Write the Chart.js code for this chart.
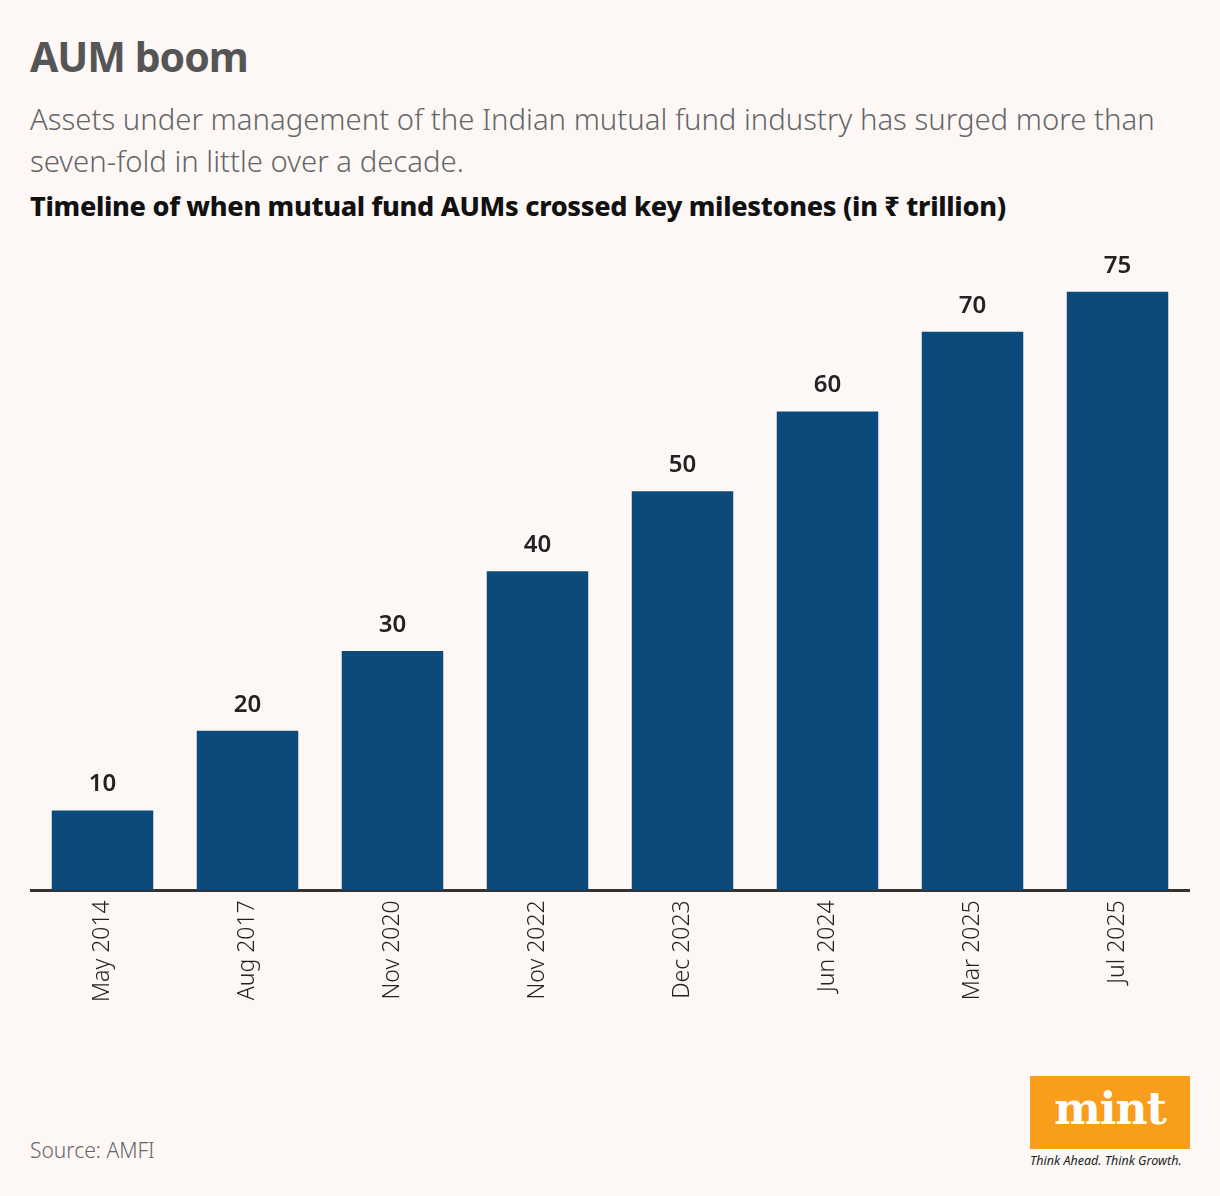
<!DOCTYPE html>
<html>
<head>
<meta charset="utf-8">
<script src="https://cdn.jsdelivr.net/npm/chart.js@4"></script>
<style>
  body { margin: 0; background: #fdf8f6; font-family: "Noto Sans", sans-serif; }
  .wrap { position: relative; width: 1220px; height: 1196px; }
  h1 { position: absolute; left: 30px; top: 28px; margin: 0; font-size: 41px; font-weight: 700; color: #555; letter-spacing: -1px; }
  .sub { position: absolute; left: 30px; top: 98px; width: 1180px; margin: 0; font-size: 29.3px; line-height: 42px; font-weight: 300; color: #666; }
  .ctitle { position: absolute; left: 30px; top: 187px; margin: 0; font-size: 27px; font-weight: 800; color: #111; letter-spacing: -0.3px; }
  .chart { position: absolute; left: 30px; top: 230px; width: 1160px; height: 774px; }
  .source { position: absolute; left: 30px; top: 1136px; font-size: 21px; color: #666; font-weight: 300; }
  .logo { position: absolute; left: 1030px; top: 1076px; width: 160px; height: 73px; background: #f99d1c; color: #fff; font-family: "DejaVu Serif", serif; font-weight: 700; font-size: 44px; text-align: center; line-height: 66px; letter-spacing: -1px; }
  .tag { position: absolute; left: 1030px; top: 1152px; width: 162px; font-size: 12.5px; font-style: italic; color: #222; white-space: nowrap; }
</style>
</head>
<body>
<div class="wrap">
  <h1>AUM boom</h1>
  <p class="sub">Assets under management of the Indian mutual fund industry has surged more than seven-fold in little over a decade.</p>
  <p class="ctitle">Timeline of when mutual fund AUMs crossed key milestones (in ₹ trillion)</p>
  <div class="chart"><canvas id="myChart"></canvas></div>
  <div class="source">Source: AMFI</div>
  <div class="logo">mint</div>
  <div class="tag">Think Ahead. Think Growth.</div>
</div>
<script>
const labels = ['May 2014', 'Aug 2017', 'Nov 2020', 'Nov 2022', 'Dec 2023', 'Jun 2024', 'Mar 2025', 'Jul 2025'];
const aum = [10, 20, 30, 40, 50, 60, 70, 75];

const valueLabels = {
    id: 'valueLabels',
    afterDatasetsDraw(chart) {
        const ctx = chart.ctx;
        ctx.save();
        ctx.font = '600 24px "Noto Sans"';
        ctx.fillStyle = '#222';
        ctx.textAlign = 'center';
        ctx.textBaseline = 'bottom';
        chart.getDatasetMeta(0).data.forEach(function(bar, i) {
            ctx.fillText(aum[i], bar.x, bar.y - 14);
        });
        ctx.restore();
    }
};

new Chart(document.getElementById('myChart'), {
    type: 'bar',
    data: {
        labels: labels,
        datasets: [{
            data: aum,
            backgroundColor: '#0b4a7a',
            barPercentage: 0.7,
            categoryPercentage: 1
        }]
    },
    options: {
        responsive: true,
        maintainAspectRatio: false,
        animation: false,
        layout: { padding: { top: 6 } },
        plugins: { legend: { display: false }, tooltip: { enabled: false } },
        scales: {
            x: {
                grid: { display: false, drawTicks: true, tickLength: 8 },
                border: { color: '#333', width: 3 },
                ticks: {
                    color: '#222',
                    font: { size: 23, family: 'Noto Sans', weight: 300 },
                    maxRotation: 90,
                    minRotation: 90,
                    padding: 2
                }
            },
            y: {
                display: false,
                min: 0,
                max: 82
            }
        }
    },
    plugins: [valueLabels]
});
</script>
</body>
</html>
